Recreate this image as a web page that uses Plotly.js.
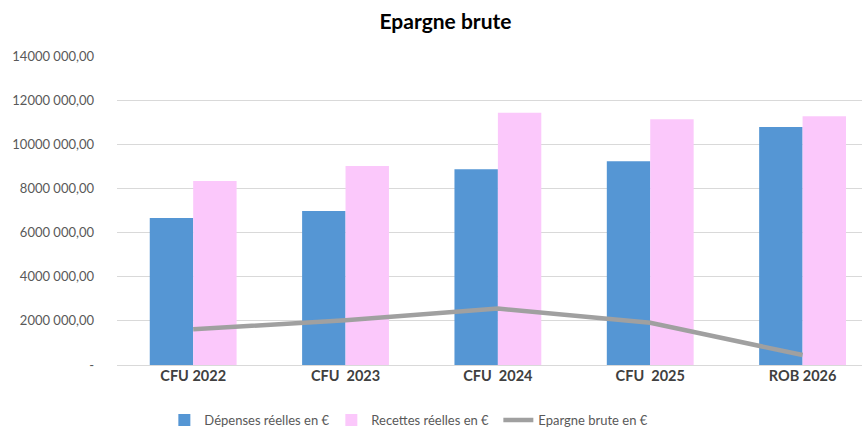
<!DOCTYPE html>
<html>
<head>
<meta charset="utf-8">
<script src="https://cdn.plot.ly/plotly-3.0.1.min.js"></script>
<style>html,body{margin:0;padding:0;background:#fff;}#chart{width:865px;height:427px;}</style>
</head>
<body>
<div id="chart"></div>
<script>
const categories = ["CFU 2022", "CFU  2023", "CFU  2024", "CFU  2025", "ROB 2026"];
const depenses = [6660000, 6980000, 8870000, 9230000, 10780000];
const recettes = [8340000, 9020000, 11430000, 11130000, 11270000];
const epargne = [1620000, 2030000, 2560000, 1910000, 450000];
const yTickVals = [0, 2000000, 4000000, 6000000, 8000000, 10000000, 12000000, 14000000];
const yTickText = ["-", "2000 000,00", "4000 000,00", "6000 000,00", "8000 000,00", "10000 000,00", "12000 000,00", "14000 000,00"];

const font = "Lato, 'Open Sans', sans-serif";
const idx = categories.map((c, i) => i);

const traces = [
  {type: "bar", x: idx, y: depenses, name: "Dépenses réelles en €",
   marker: {color: "#5596d4", line: {width: 0}}},
  {type: "bar", x: idx, y: recettes, name: "Recettes réelles en €",
   marker: {color: "#fbc8fb", line: {width: 0}}},
  {type: "scatter", mode: "lines", x: idx, y: epargne, name: "Epargne brute en €",
   line: {color: "#a0a0a0", width: 4.5}}
];

const layout = {
  width: 865, height: 427,
  margin: {l: 117, r: 3, t: 56, b: 62},
  paper_bgcolor: "#fff", plot_bgcolor: "#fff",
  title: {text: "<b>Epargne brute</b>", font: {family: font, size: 21, color: "#000"}, x: 0.515, xanchor: "center", y: 0.95, yanchor: "middle"},
  barmode: "group", bargap: 0.43, bargroupgap: 0,
  showlegend: true,
  legend: {orientation: "h", xref: "container", yref: "container", x: 0.19, xanchor: "left", y: 0.016, yanchor: "middle",
           font: {family: font, size: 13, color: "#595959"}, traceorder: "normal", itemwidth: 30, entrywidth: 122},
  xaxis: {range: [-0.5, 4.39], tickvals: idx, ticktext: categories.map(c => "<b>" + c + "</b>"),
          tickfont: {family: font, size: 14.5, color: "#404040"}, showgrid: false, zeroline: false,
          showline: false, ticks: "", fixedrange: true},
  yaxis: {range: [0, 14000000], tickvals: yTickVals, ticktext: yTickText,
          tickfont: {family: font, size: 13, color: "#595959"}, showgrid: true, gridcolor: "#d9d9d9",
          gridwidth: 1, zeroline: true, zerolinecolor: "#d9d9d9", showline: false, ticks: "", ticklen: 0,
          ticklabelstandoff: 22, fixedrange: true}
};

Plotly.newPlot("chart", traces, layout, {displayModeBar: false, staticPlot: true});
</script>
</body>
</html>
